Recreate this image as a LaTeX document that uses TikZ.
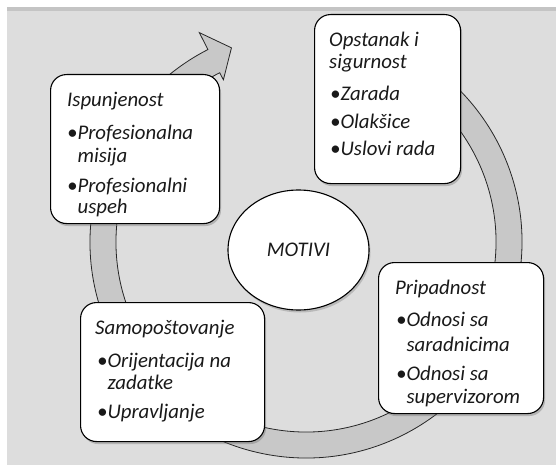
\documentclass[tikz,border=0pt]{standalone}
\usepackage{fontspec}
\setmainfont{Carlito}
\usetikzlibrary{calc,shadows,shapes.geometric}
\definecolor{bgc}{RGB}{221,221,221}
\definecolor{ringc}{RGB}{200,200,200}
\definecolor{topline}{RGB}{196,196,196}
\definecolor{txt}{RGB}{25,25,25}
\begin{document}
\begin{tikzpicture}[x=1pt,y=1pt,
  box/.style={draw=black, line width=1.1pt, fill=white, rounded corners=16pt,
    anchor=north west, inner sep=0pt,
    drop shadow={shadow xshift=1.5pt, shadow yshift=-2.5pt, opacity=0.35, fill=black!60}},
  ln/.style={anchor=base west, inner sep=0pt, font=\itshape\fontsize{20.8}{24}\selectfont, text=txt},
  ring/.style={fill=ringc, draw=black!85, line width=0.8pt}]
\useasboundingbox (0,0) rectangle (556,-465);
\fill[white] (0,0) rectangle (556,-465);
\fill[bgc] (7,-7) rectangle (556,-465);
\fill[topline] (7,-7) rectangle (556,-11);

% cycle ring with arrow
\coordinate (C) at (306,-242);
\draw[ring] ($(C)+(80:216pt)$) arc[start angle=80, end angle=-243, radius=216pt]
  -- ($(C)+(117:235pt)$) -- ($(C)+(111:208pt)$) -- ($(C)+(117:182pt)$)
  -- ($(C)+(117:190pt)$) arc[start angle=-243, end angle=80, radius=190pt] -- cycle;

% boxes
\node[box, minimum width=169pt, minimum height=149pt] (b1) at (50,-74) {};
\node[box, minimum width=146pt, minimum height=169pt] (b2) at (314,-14) {};
\node[box, minimum width=165pt, minimum height=151pt] (b3) at (378,-262) {};
\node[box, minimum width=184pt, minimum height=139pt] (b4) at (80,-302) {};
\node[ellipse, draw=black, line width=1.1pt, fill=white, minimum width=141pt, minimum height=120pt,
  inner sep=0pt, font=\itshape\fontsize{20.8}{24}\selectfont, text=txt,
  drop shadow={shadow xshift=1.5pt, shadow yshift=-2.5pt, opacity=0.3, fill=black!60}] (m) at (298.5,-250) {MOTIVI};

% Ispunjenost
\node[ln] (b1t) at (67,-107) {Ispunjenost};
\node[ln] (b1a) at (67,-140) {•Profesionalna};
\node[ln] (b1b) at (67,-163) {\phantom{•}misija};
\node[ln] (b1c) at (67,-192) {•Profesionalni};
\node[ln] (b1d) at (67,-213) {\phantom{•}uspeh};

% Opstanak
\node[ln] (b2t) at (329,-47) {Opstanak i};
\node[ln] (b2u) at (329,-69) {sigurnost};
\node[ln] (b2a) at (330,-101) {•Zarada};
\node[ln] (b2b) at (330,-129) {•Olakšice};
\node[ln] (b2c) at (330,-156) {•Uslovi rada};

% Pripadnost
\node[ln] (b3t) at (395,-294) {Pripadnost};
\node[ln] (b3a) at (396,-326) {•Odnosi sa};
\node[ln] (b3b) at (396,-351) {\phantom{•}saradnicima};
\node[ln] (b3c) at (396,-380) {•Odnosi sa};
\node[ln] (b3d) at (396,-403) {\phantom{•}supervizorom};

% Samopostovanje
\node[ln] (b4t) at (95,-334) {Samopoštovanje};
\node[ln] (b4a) at (97,-367) {•Orijentacija na};
\node[ln] (b4b) at (97,-389) {\phantom{•}zadatke};
\node[ln] (b4c) at (97,-418) {•Upravljanje};
\end{tikzpicture}
\end{document}
